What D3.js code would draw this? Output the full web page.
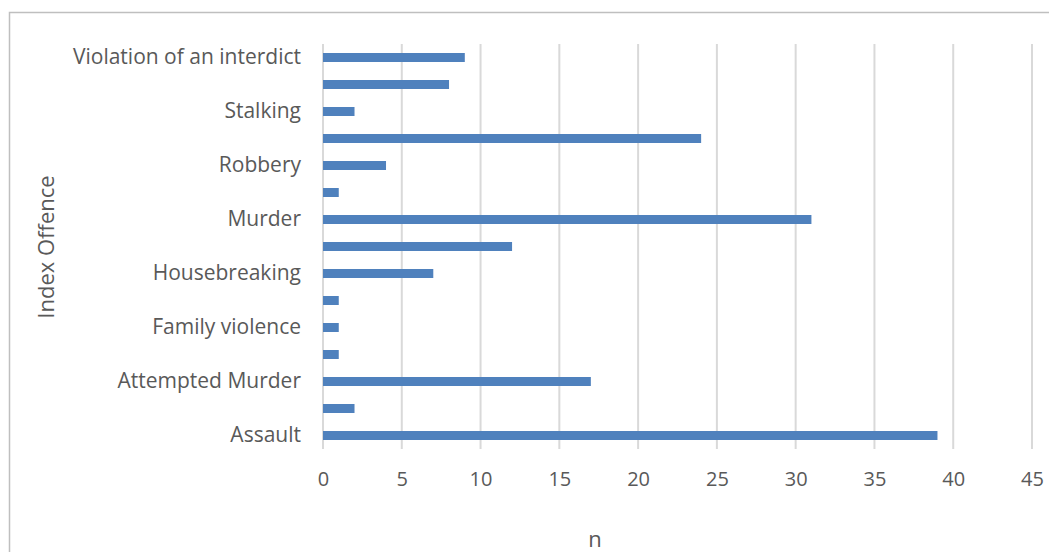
<!DOCTYPE html>
<html>
<head>
<meta charset="utf-8">
<script src="https://cdn.jsdelivr.net/npm/d3@7"></script>
<style>
  html, body { margin: 0; padding: 0; background: #fff; }
  svg { display: block; }
  text { font-family: "Open Sans", "Liberation Sans", sans-serif; fill: #595959; }
</style>
</head>
<body>
<svg id="chart" width="1049" height="552"></svg>
<script>
// Offence categories, bottom to top (alphabetical), with counts
const offences = [
  "Assault", "Attempted assault", "Attempted Murder", "Culpable homicide",
  "Family violence", "Fraud", "Housebreaking", "Kidnapping", "Murder",
  "Rape", "Robbery", "Sexual assault", "Stalking", "Theft",
  "Violation of an interdict"
];
const counts = [39, 2, 17, 1, 1, 1, 7, 12, 31, 1, 4, 24, 2, 8, 9];
const xTicks = [0, 5, 10, 15, 20, 25, 30, 35, 40, 45];
const xTitle = "n";
const yTitle = "Index Offence";

const svg = d3.select("#chart");
const plot = { left: 323, right: 1032, top: 44, bottom: 449 };

// Chart frame (left and top edges visible)
svg.append("path")
  .attr("d", "M9.5,560 V12.5 H1060")
  .attr("fill", "none")
  .attr("stroke", "#bfbfbf")
  .attr("stroke-width", 1.5);

const x = d3.scaleLinear().domain([0, 45]).range([plot.left, plot.right]);
const y = d3.scaleBand()
  .domain(offences.slice().reverse())
  .range([plot.top, plot.bottom])
  .paddingInner(2 / 3)
  .paddingOuter(1 / 3);

// Vertical gridlines
svg.append("g")
  .selectAll("line")
  .data(xTicks)
  .join("line")
  .attr("x1", d => x(d)).attr("x2", d => x(d))
  .attr("y1", plot.top).attr("y2", plot.bottom)
  .attr("stroke", "#d9d9d9")
  .attr("stroke-width", 2);

// Bars
svg.append("g")
  .selectAll("rect")
  .data(offences.map((o, i) => ({ o, v: counts[i] })))
  .join("rect")
  .attr("x", x(0))
  .attr("y", d => y(d.o))
  .attr("width", d => x(d.v) - x(0))
  .attr("height", y.bandwidth())
  .attr("fill", "#4f81bd");

// X axis tick labels
const xAxis = svg.append("g")
  .attr("transform", `translate(0,${plot.bottom})`)
  .call(d3.axisBottom(x).tickValues(xTicks).tickSize(0).tickPadding(23));
xAxis.select(".domain").remove();
xAxis.selectAll("text")
  .attr("font-size", 20)
  .style("font-family", "'Open Sans', 'Liberation Sans', sans-serif")
  .attr("fill", "#595959");

// Y axis labels: every second category
const yAxis = svg.append("g")
  .attr("transform", `translate(${plot.left},0)`)
  .call(d3.axisLeft(y)
    .tickValues(offences.filter((d, i) => i % 2 === 0))
    .tickSize(0).tickPadding(22));
yAxis.select(".domain").remove();
yAxis.selectAll("text")
  .attr("font-size", 21)
  .style("font-family", "'Open Sans', 'Liberation Sans', sans-serif")
  .attr("fill", "#595959");

// Axis titles
svg.append("text")
  .attr("x", 595)
  .attr("y", 547)
  .attr("text-anchor", "middle")
  .attr("font-size", 22)
  .text(xTitle);

svg.append("text")
  .attr("transform", "translate(54,247) rotate(-90)")
  .attr("text-anchor", "middle")
  .attr("font-size", 22)
  .text(yTitle);
</script>
</body>
</html>
